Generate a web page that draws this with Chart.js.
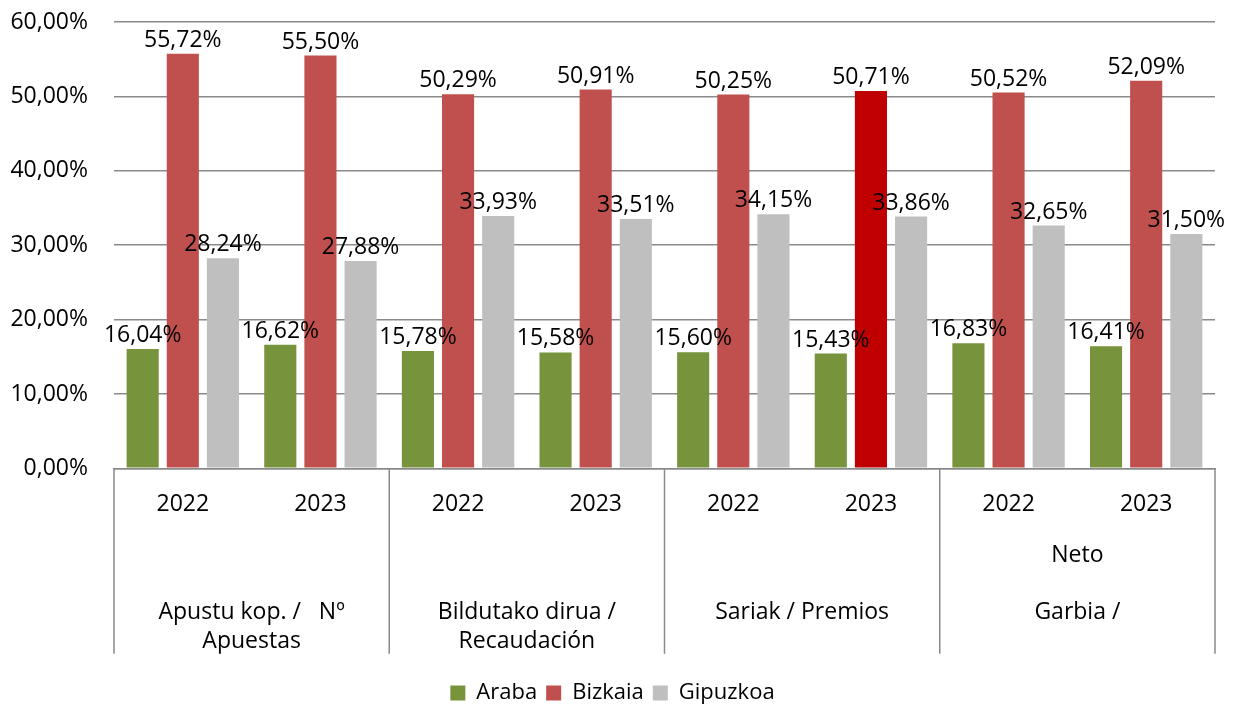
<!DOCTYPE html>
<html>
<head>
<meta charset="utf-8">
<script src="https://cdn.jsdelivr.net/npm/chart.js@4/dist/chart.umd.min.js"></script>
<style>
  html, body { margin: 0; padding: 0; background: #fff; }
  #wrap { width: 1245px; height: 706px; }
</style>
</head>
<body>
<div id="wrap"><canvas id="myChart"></canvas></div>
<script>
// years on the first axis row, groups on the second row
const years = ["2022", "2023", "2022", "2023", "2022", "2023", "2022", "2023"];
const groups = [
  ["", "", "Apustu kop. /   Nº", "Apuestas"],
  ["", "", "Bildutako dirua /", "Recaudación"],
  ["", "", "Sariak / Premios"],
  ["Neto", "", "Garbia /"],
];

const araba = [16.04, 16.62, 15.78, 15.58, 15.60, 15.43, 16.83, 16.41];
const bizkaia = [55.72, 55.50, 50.29, 50.91, 50.25, 50.71, 50.52, 52.09];
const gipuzkoa = [28.24, 27.88, 33.93, 33.51, 34.15, 33.86, 32.65, 31.50];

const yTicks = [0, 10, 20, 30, 40, 50, 60];
const highlightIndex = 5; // Sariak 2023 bizkaia is darker

const font = "'Open Sans', sans-serif";
const fmt = (v) => v.toFixed(2).replace(".", ",") + "%";

// value labels above each bar
const barLabels = {
  id: "barLabels",
  afterDatasetsDraw(chart) {
    const ctx = chart.ctx;
    ctx.save();
    ctx.font = "23px " + font;
    ctx.fillStyle = "#000";
    ctx.textAlign = "center";
    ctx.textBaseline = "bottom";
    chart.data.datasets.forEach((ds, di) => {
      chart.getDatasetMeta(di).data.forEach((bar, i) => {
        ctx.fillText(fmt(ds.data[i]), bar.x, bar.y - 2);
      });
    });
    ctx.restore();
  },
};

// vertical separators between the groups under the axis
const groupLines = {
  id: "groupLines",
  afterDraw(chart) {
    const x = chart.scales.x;
    const x2 = chart.scales.x2;
    const ctx = chart.ctx;
    const top = chart.chartArea.bottom;
    const bottom = x2.bottom;
    const xs = [chart.chartArea.left];
    for (let g = 1; g < groups.length; g++) {
      xs.push((x.getPixelForValue(g * 2 - 1) + x.getPixelForValue(g * 2)) / 2);
    }
    xs.push(chart.chartArea.right);
    ctx.save();
    ctx.strokeStyle = "#8a8a8a";
    ctx.lineWidth = 1.5;
    xs.forEach((px) => {
      ctx.beginPath();
      ctx.moveTo(px, top);
      ctx.lineTo(px, bottom);
      ctx.stroke();
    });
    ctx.restore();
  },
};

const chart = new Chart(document.getElementById("myChart"), {
  type: "bar",
  data: {
    labels: years,
    datasets: [
      { label: "Araba", data: araba, backgroundColor: "#77933C" },
      {
        label: "Bizkaia",
        data: bizkaia,
        backgroundColor: (c) => (c.dataIndex === highlightIndex ? "#C00000" : "#C0504D"),
      },
      { label: "Gipuzkoa", data: gipuzkoa, backgroundColor: "#BFBFBF" },
    ],
  },
  options: {
    responsive: true,
    maintainAspectRatio: false,
    animation: false,
    categoryPercentage: 0.875,
    barPercentage: 0.8,
    layout: { padding: { top: 22, right: 30, left: 10, bottom: -8 } },
    scales: {
      y: {
        min: 0,
        max: 60,
        afterBuildTicks: (s) => { s.ticks = yTicks.map((v) => ({ value: v })); },
        afterFit: (s) => {
          s.width = 104;
          s.paddingTop = 10;
          s.paddingBottom = 10;
        },
        ticks: {
          callback: (v) => fmt(v),
          font: { family: font, size: 23 },
          color: "#000",
          padding: 26,
        },
        grid: { color: "#8a8a8a", lineWidth: 1.5, drawTicks: false },
        border: { display: false },
      },
      x: {
        grid: { display: false, drawTicks: false },
        border: { display: true, color: "#8a8a8a", width: 1.5 },
        ticks: {
          font: { family: font, size: 23, lineHeight: 1.15 },
          color: "#000",
          padding: 23,
          maxRotation: 0,
          autoSkip: false,
        },
      },
      x2: {
        type: "category",
        labels: groups,
        offset: true,
        grid: { display: false, drawTicks: false },
        border: { display: false },
        afterFit: (s) => { s.height -= 2; },
        ticks: {
          font: { family: font, size: 23, lineHeight: 1.25 },
          color: "#000",
          padding: 0,
          maxRotation: 0,
          autoSkip: false,
        },
      },
    },
    plugins: {
      tooltip: { enabled: false },
      legend: {
        position: "bottom",
        title: { display: true, text: " ", font: { size: 1 }, padding: { top: 9, bottom: 9 } },
        labels: {
          font: { family: font, size: 22 },
          color: "#000",
          boxWidth: 15,
          boxHeight: 15,
          padding: 9,
        },
      },
      title: { display: false },
    },
  },
  plugins: [barLabels, groupLines],
});
</script>
</body>
</html>
